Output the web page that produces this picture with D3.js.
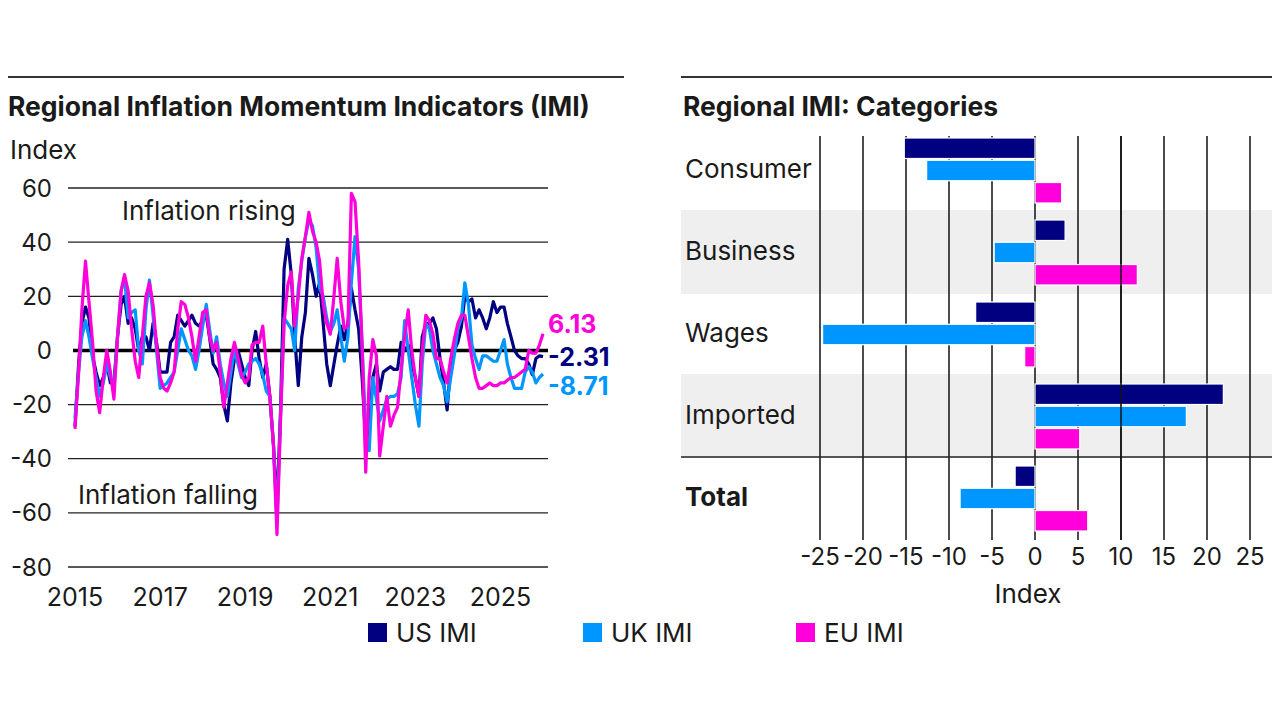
<!DOCTYPE html>
<html>
<head>
<meta charset="utf-8">
<script src="https://cdn.jsdelivr.net/npm/d3@7"></script>
<style>
  body { margin: 0; background: #fff; }
  svg { display: block; font-family: Inter, "Noto Sans", sans-serif; }
</style>
</head>
<body>
<svg id="chart" width="1280" height="720"></svg>
<script>
// monthly IMI readings, Jan 2015 .. Jan 2026
var usImi = [-28,-5,10,16,12,-2,-8,-13,-10,-5,-12,-12,
  5,17,20,10,12,8,0,5,5,0,10,3,
  -8,-8,-8,3,5,13,11,9,11,13,10,9,
  11,13,5,-5,-7,-10,-20,-26,-12,-3,0,-5,
  -10,-13,0,7,-3,-10,-5,-17,-35,-58,-22,30,
  41,28,5,-13,5,14,34,28,20,25,10,-5,
  -13,-5,2,9,4,10,23,15,8,-10,-34,-28,
  -10,-5,-15,-8,-7,-6,-7,-7,3,0,2,-5,
  -10,-17,5,10,10,12,8,-3,-12,-22,-5,0,
  3,9,20,18,19,12,15,12,8,12,18,14,
  16,16,10,5,0,-2,-3,-3,-5,-9,-3,-2,-2.31];

var ukImi = [-25,-8,5,11,5,-3,-10,-17,-12,-5,-10,-14,
  5,22,27,12,14,15,0,-5,15,26,13,0,
  -14,-13,-12,-10,-8,0,8,4,0,-2,-7,0,
  9,17,8,-1,5,-5,-12,-17,-8,0,-5,-10,
  -8,-5,-4,-3,-5,-9,-15,-17,-35,-64,-24,12,
  10,8,0,23,33,42,48,46,38,23,20,12,
  7,10,15,5,-4,5,25,42,30,2,-30,-37,
  -10,-18,-26,-22,-18,-17,-17,-16,-10,11,0,-10,
  -20,-28,-5,10,8,0,-5,-10,-13,-19,-10,-2,
  8,12,25,17,2,-3,-7,-2,-2,-3,-4,-4,
  0,4,-5,-10,-14,-14,-14,-8,-6,-8,-12,-10,-8.71];

var euImi = [-29,-8,15,33,18,3,-15,-23,-10,0,-8,-18,
  5,22,28,22,8,-4,-10,5,20,25,17,2,
  -10,-14,-15,-12,-8,8,18,17,12,5,-4,5,
  14,15,5,0,3,-8,-21,-12,-3,3,-3,-9,
  -12,-10,2,3,3,9,-5,-17,-35,-68,-25,10,
  24,29,9,20,34,42,51,44,40,33,17,10,
  6,20,34,18,8,9,58,55,33,2,-45,-10,
  4,-2,-39,-28,-17,-28,-24,-21,-7,5,15,0,
  -10,-17,0,13,11,6,-3,-3,-8,-12,-3,4,
  10,13,13,5,-3,-10,-14,-14,-13,-12,-13,-13,
  -12,-12,-11,-10,-10,-9,-8,-7,0,-1,-1,2,6.13];

var seriesNames = ["US IMI", "UK IMI", "EU IMI"];
var seriesColors = ["#000080", "#0096ff", "#ff00dc"];
var leftTicks = [60, 40, 20, 0, -20, -40, -60, -80];
var yearTicks = [2015, 2017, 2019, 2021, 2023, 2025];

var categories = ["Consumer", "Business", "Wages", "Imported", "Total"];
var usCat = [-15.2, 3.5, -6.9, 21.9, -2.31];
var ukCat = [-12.6, -4.75, -24.7, 17.6, -8.71];
var euCat = [3.1, 11.9, -1.2, 5.2, 6.13];
var rightTicks = [-25, -20, -15, -10, -5, 0, 5, 10, 15, 20, 25];

var svg = d3.select("#chart");
var ink = "#1a1a1a";
var wordSize = 26, tickSize = 24;

// ---------- left panel ----------
var x = d3.scaleTime()
  .domain([new Date(2015, 0, 1), new Date(2026, 0, 1)])
  .range([75, 543]);
var y = d3.scaleLinear().domain([-80, 60]).range([567, 188]);

svg.append("line").attr("x1", 8).attr("x2", 624).attr("y1", 77).attr("y2", 77)
  .attr("stroke", "#333").attr("stroke-width", 2);
svg.append("text").attr("x", 8).attr("y", 116)
  .attr("font-size", 26.5).attr("font-weight", 700).attr("fill", ink)
  .text("Regional Inflation Momentum Indicators (IMI)");
svg.append("text").attr("x", 10).attr("y", 159)
  .attr("font-size", wordSize).attr("fill", ink).text("Index");

var gl = svg.append("g");
gl.selectAll("line.grid").data(leftTicks.filter(function(d) { return d !== 0; }))
  .enter().append("line")
  .attr("x1", 68).attr("x2", 548)
  .attr("y1", function(d) { return y(d); }).attr("y2", function(d) { return y(d); })
  .attr("stroke", "#222").attr("stroke-width", 1.3);
gl.append("line").attr("x1", 73).attr("x2", 548).attr("y1", y(0)).attr("y2", y(0))
  .attr("stroke", "#000").attr("stroke-width", 3.5);

gl.selectAll("text.ytick").data(leftTicks).enter().append("text")
  .attr("x", 52).attr("y", function(d) { return y(d); }).attr("dy", "0.36em")
  .attr("text-anchor", "end").attr("font-size", tickSize).attr("fill", ink)
  .text(function(d) { return d; });

gl.selectAll("text.xtick").data(yearTicks).enter().append("text")
  .attr("x", function(d) { return x(new Date(d, 0, 1)); }).attr("y", 606)
  .attr("text-anchor", "middle").attr("font-size", 25).attr("fill", ink)
  .text(function(d) { return d; });

svg.append("text").attr("x", 122).attr("y", 220).attr("font-size", wordSize).attr("fill", ink)
  .text("Inflation rising");
svg.append("text").attr("x", 78).attr("y", 504).attr("font-size", wordSize).attr("fill", ink)
  .text("Inflation falling");

var line = d3.line()
  .x(function(d, i) { return x(new Date(2015, i, 1)); })
  .y(function(d) { return y(d); });

[usImi, ukImi, euImi].forEach(function(s, k) {
  svg.append("path").datum(s)
    .attr("d", line).attr("fill", "none")
    .attr("stroke", seriesColors[k]).attr("stroke-width", 3.2)
    .attr("stroke-linejoin", "round");
});

// end-of-line value labels, nudged apart
var labelNudge = [0, 12, -10];
[usImi, ukImi, euImi].forEach(function(s, k) {
  var last = s[s.length - 1];
  svg.append("text")
    .attr("x", 548).attr("y", y(last) + labelNudge[k]).attr("dy", "0.36em")
    .attr("font-size", 25).attr("font-weight", 700).attr("fill", seriesColors[k])
    .text(d3.format(".2f")(last).replace("−", "-"));
});

// ---------- right panel ----------
var xr = d3.scaleLinear().domain([-25, 25]).range([820, 1250]);
var yr = d3.scaleBand().domain(categories).range([128, 538]);
var inner = d3.scaleBand().domain(seriesNames).range([10, 75]).paddingInner(0.08);

svg.append("line").attr("x1", 681).attr("x2", 1272).attr("y1", 77).attr("y2", 77)
  .attr("stroke", "#333").attr("stroke-width", 2);
svg.append("text").attr("x", 683).attr("y", 116)
  .attr("font-size", 26.5).attr("font-weight", 700).attr("fill", ink)
  .text("Regional IMI: Categories");

svg.selectAll("rect.band").data(["Business", "Imported"]).enter().append("rect")
  .attr("x", 681).attr("width", 591)
  .attr("y", function(d) { return yr(d); }).attr("height", yr.bandwidth() + 2)
  .attr("fill", "#efefef");

svg.selectAll("line.vgrid").data(rightTicks).enter().append("line")
  .attr("x1", function(d) { return xr(d); }).attr("x2", function(d) { return xr(d); })
  .attr("y1", 136).attr("y2", 540)
  .attr("stroke", "#111").attr("stroke-width", 1.5);

svg.append("line").attr("x1", 681).attr("x2", 1272)
  .attr("y1", yr("Total") + 1).attr("y2", yr("Total") + 1)
  .attr("stroke", "#222").attr("stroke-width", 1.5);

var catSeries = [usCat, ukCat, euCat];
catSeries.forEach(function(vals, k) {
  svg.selectAll("rect.s" + k).data(vals).enter().append("rect")
    .attr("x", function(d) { return xr(Math.min(0, d)); })
    .attr("width", function(d) { return Math.abs(xr(d) - xr(0)); })
    .attr("y", function(d, i) { return yr(categories[i]) + inner(seriesNames[k]); })
    .attr("height", inner.bandwidth())
    .attr("fill", seriesColors[k])
    .attr("stroke", "#fff").attr("stroke-width", 1.2);
});

// the 10 gridline sits in front of the bars in the source
svg.append("line").attr("x1", xr(10)).attr("x2", xr(10)).attr("y1", 136).attr("y2", 540)
  .attr("stroke", "#111").attr("stroke-width", 1.5);

svg.selectAll("text.cat").data(categories).enter().append("text")
  .attr("x", 685).attr("y", function(d) { return yr(d) + yr.bandwidth() / 2; })
  .attr("dy", "0.36em").attr("font-size", wordSize).attr("fill", ink)
  .attr("font-weight", function(d) { return d === "Total" ? 700 : 400; })
  .text(function(d) { return d; });

svg.selectAll("text.rtick").data(rightTicks).enter().append("text")
  .attr("x", function(d) { return xr(d); }).attr("y", 565)
  .attr("text-anchor", "middle").attr("font-size", tickSize).attr("fill", ink)
  .text(function(d) { return d; });
svg.append("text").attr("x", xr(0) - 7).attr("y", 603)
  .attr("text-anchor", "middle").attr("font-size", wordSize).attr("fill", ink).text("Index");

// ---------- legend ----------
var legendX = [368, 583, 796];
var lg = svg.selectAll("g.leg").data(seriesNames).enter().append("g")
  .attr("transform", function(d, i) { return "translate(" + legendX[i] + ",623)"; });
lg.append("rect").attr("width", 19).attr("height", 19)
  .attr("fill", function(d, i) { return seriesColors[i]; });
lg.append("text").attr("x", 28).attr("y", 10).attr("dy", "0.36em")
  .attr("font-size", wordSize).attr("fill", ink).text(function(d) { return d; });
</script>
</body>
</html>
